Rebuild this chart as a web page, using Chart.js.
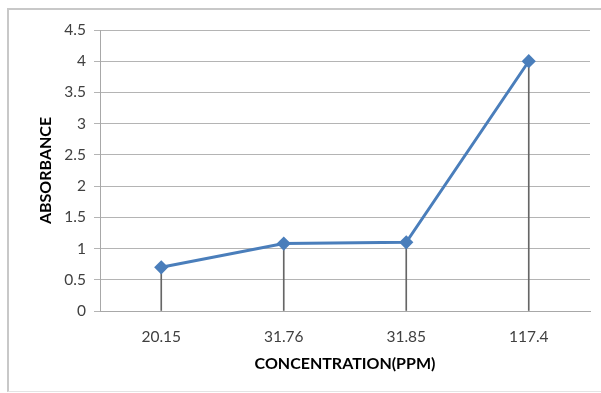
<!DOCTYPE html>
<html lang="en">
<head>
    <meta charset="UTF-8">
    <title>Absorbance vs Concentration</title>
    <script src="https://cdn.jsdelivr.net/npm/chart.js"></script>
    <style>
        body { margin: 0; background: #fff; }
        .frame {
            position: absolute;
            left: 7px; top: 8px;
            width: 600px; height: 384px;
            border: 2px solid #c8c8c8;
            border-right: none;
            border-bottom: 1px solid #e4e4e4;
            box-sizing: border-box;
        }
        #chart { position: absolute; left: 0; top: 0; }
    </style>
</head>
<body>
<div class="frame"></div>
<canvas id="chart" width="601" height="393"></canvas>
<script>
    var concentrations = ['20.15', '31.76', '31.85', '117.4'];
    var absorbance = [0.7, 1.08, 1.1, 4.0];
    var yMin = 0, yMax = 4.5, yStep = 0.5;

    var tickFont = { family: 'Lato, "Open Sans", sans-serif', size: 15.5 };
    var titleFont = { family: 'Lato, "Open Sans", sans-serif', size: 16, weight: 'bold' };

    new Chart(document.getElementById('chart').getContext('2d'), {
        data: {
            labels: concentrations,
            datasets: [{
                type: 'line',
                label: 'Absorbance',
                data: absorbance,
                borderColor: '#4a7ebb',
                backgroundColor: '#4a7ebb',
                borderWidth: 3,
                pointStyle: 'rectRot',
                pointRadius: 5,
                order: 1
            }, {
                // drop lines from each point to the axis
                type: 'bar',
                label: 'drop',
                data: absorbance,
                backgroundColor: '#666',
                barThickness: 1,
                order: 2
            }]
        },
        options: {
            responsive: false,
            animation: false,
            layout: { padding: { left: 36, right: 11, top: 30, bottom: 20 } },
            plugins: {
                legend: { display: false },
                tooltip: { enabled: false }
            },
            scales: {
                x: {
                    grid: { display: false },
                    border: { display: true, color: '#a8a8a8' },
                    ticks: { font: tickFont, color: '#404040', padding: 9 },
                    title: { display: true, text: 'CONCENTRATION(PPM)', font: titleFont, color: '#000', padding: 0 },
                    afterFit: function (s) { s.height = 62; }
                },
                y: {
                    min: yMin, max: yMax,
                    grid: { color: '#b4b4b4', tickLength: 6 },
                    border: { color: '#a8a8a8' },
                    ticks: {
                        stepSize: yStep, font: tickFont, color: '#404040', padding: 8,
                        callback: function (v) { return String(v); }
                    },
                    title: { display: true, text: 'ABSORBANCE', font: titleFont, color: '#000', padding: 0 },
                    afterFit: function (s) { s.width = 64; }
                }
            }
        }
    });
</script>
</body>
</html>
